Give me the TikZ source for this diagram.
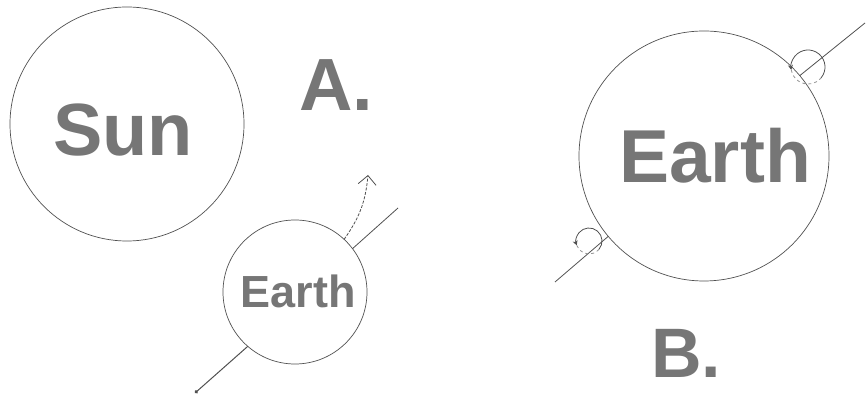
\documentclass[tikz,border=0pt]{standalone}
\usepackage{fontspec}
\setmainfont{Liberation Sans}
\usetikzlibrary{arrows.meta}
\definecolor{rim}{RGB}{80, 80, 80}
\definecolor{ink}{RGB}{118, 118, 118}
\definecolor{faint}{RGB}{150, 150, 150}
\tikzset{
  orb/.style={draw=rim, line width=0.7pt, circle, inner sep=0pt, outer sep=0pt},
  bigword/.style={text=ink, font=\fontsize{#1}{#1}\selectfont\bfseries, inner sep=0pt},
  axisline/.style={draw=rim, line width=0.8pt},
}

\begin{document}
\begin{tikzpicture}[x=1pt, y=1pt]
            \useasboundingbox (0,0) rectangle (867,398);
            \node[orb, minimum size=234pt] (sun)    at (127,274)   {};
            \node[orb, minimum size=144pt] (earthA) at (295,106)   {};
            \node[orb, minimum size=250pt] (earthB) at (704,242)   {};
            \node[bigword=74]    (sunword)    at (123,268)   {Sun};
            \node[bigword=45]    (earthAword) at (298,106.5) {Earth};
            \node[bigword=75]    (earthBword) at (715,242.5) {Earth};
            \node[bigword=74]    (tagA)       at (336,313)   {A.};
            \node[bigword=70]    (tagB)       at (686,45)    {B.};
            % panel A: tilted axis and the way it turns
            \coordinate (poleAs) at (195,5);
            \coordinate (poleAn) at (398,190);
            \coordinate (spinA)  at (368,223);
            \draw[axisline, line width=1pt, -{Circle[length=3.5pt]}] (earthA.229) -- (poleAs);
            \draw[axisline]                                          (earthA.37)  -- (poleAn);
            \draw[axisline, dash pattern=on 3pt off 1.5pt, -{Straight Barb[length=9pt,width=18pt]}]
                 (earthA.47) to[bend right=15] (spinA);
            % panel B: axis with a spin loop at each pole
            \coordinate (poleBs) at (555,116);
            \coordinate (poleBn) at (865,375);
            \coordinate (whirlN) at (808,331);
            \coordinate (whirlS) at (589,157);
            \draw[axisline] (earthB.220) -- (poleBs);
            \draw[axisline] (earthB.40)  -- (poleBn);
            \draw[axisline, -{Stealth[length=5pt,width=5pt]}] (whirlN) ++(-40:17) arc[start angle=-40, end angle=190, radius=17];
            \draw[axisline, faint, dashed]                     (whirlN) ++(190:17) arc[start angle=190, end angle=320, radius=17];
            \draw[axisline, -{Stealth[length=5pt,width=5pt]}] (whirlS) ++(-40:13) arc[start angle=-40, end angle=200, radius=13];
            \draw[axisline, faint, dashed]                     (whirlS) ++(200:13) arc[start angle=200, end angle=320, radius=13];
\end{tikzpicture}
\end{document}
